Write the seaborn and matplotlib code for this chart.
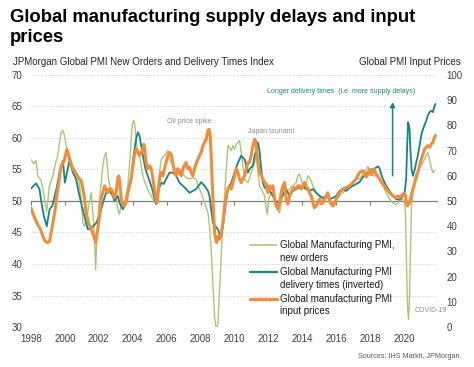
import matplotlib
matplotlib.use("Agg")
import matplotlib.pyplot as plt
import seaborn as sns
import pandas as pd
from matplotlib.lines import Line2D

# ---------------- data ----------------
series_names = ["Global Manufacturing PMI,\nnew orders",
                "Global Manufacturing PMI\ndelivery times (inverted)",
                "Global manufacturing PMI\ninput prices"]

year_ticks = [1998, 2000, 2002, 2004, 2006, 2008, 2010, 2012, 2014, 2016, 2018, 2020]
year_labels = ["1998", "2000", "2002", "2004", "2006", "2008", "2010", "2012",
               "2014", "2016", "2018", "2020"]
left_ticks = [30, 35, 40, 45, 50, 55, 60, 65, 70]
right_ticks = [0, 10, 20, 30, 40, 50, 60, 70, 80, 90, 100]

# New orders (left axis)
no_year = [1998.00, 1998.17, 1998.30, 1998.40, 1998.60, 1998.70, 1998.84, 1998.92, 1999.09, 1999.29,
           1999.48, 1999.54, 1999.68, 1999.78, 1999.88, 1999.98, 2000.07, 2000.27, 2000.47, 2000.76,
           2000.86, 2000.96, 2001.06, 2001.16, 2001.35, 2001.55, 2001.65, 2001.75, 2001.81, 2001.90,
           2001.98, 2002.10, 2002.24, 2002.34, 2002.43, 2002.57, 2002.73, 2002.83, 2002.92, 2003.02,
           2003.12, 2003.22, 2003.32, 2003.46, 2003.57, 2003.71, 2003.81, 2003.91, 2003.97, 2004.05,
           2004.10, 2004.20, 2004.30, 2004.40, 2004.50, 2004.60, 2004.79, 2004.99, 2005.19, 2005.34,
           2005.48, 2005.58, 2005.68, 2005.87, 2006.07, 2006.17, 2006.37, 2006.56, 2006.76, 2006.96,
           2007.15, 2007.35, 2007.55, 2007.74, 2007.85, 2008.04, 2008.24, 2008.44, 2008.53, 2008.63,
           2008.73, 2008.83, 2008.93, 2009.03, 2009.12, 2009.22, 2009.32, 2009.42, 2009.52, 2009.62,
           2009.71, 2009.81, 2009.91, 2010.01, 2010.11, 2010.21, 2010.30, 2010.40, 2010.50, 2010.60,
           2010.80, 2010.99, 2011.19, 2011.29, 2011.39, 2011.48, 2011.58, 2011.78, 2011.88, 2011.94,
           2012.02, 2012.17, 2012.37, 2012.57, 2012.66, 2012.76, 2012.86, 2012.95, 2013.05, 2013.25,
           2013.45, 2013.64, 2013.74, 2013.84, 2013.94, 2014.04, 2014.13, 2014.23, 2014.33, 2014.43,
           2014.53, 2014.63, 2014.72, 2014.82, 2015.02, 2015.22, 2015.41, 2015.61, 2015.81, 2016.00,
           2016.20, 2016.40, 2016.59, 2016.79, 2016.99, 2017.18, 2017.38, 2017.58, 2017.77, 2017.87,
           2017.97, 2018.07, 2018.17, 2018.36, 2018.56, 2018.76, 2018.95, 2019.15, 2019.35, 2019.54,
           2019.74, 2019.94, 2020.03, 2020.09, 2020.15, 2020.21, 2020.27, 2020.33, 2020.39, 2020.45,
           2020.53, 2020.62, 2020.72, 2020.92, 2021.12, 2021.21, 2021.31, 2021.41, 2021.51, 2021.61,
           2021.71, 2021.80]
no_value = [56.6, 55.9, 56.4, 54.0, 53.2, 51.9, 49.7, 48.3, 52.4, 54.0,
            56.4, 56.6, 59.3, 60.9, 61.2, 60.4, 58.8, 57.2, 55.6, 54.0,
            52.4, 50.3, 46.5, 46.0, 48.4, 51.3, 48.1, 44.4, 39.1, 45.0,
            48.7, 51.9, 55.6, 57.2, 57.7, 53.5, 51.3, 50.8, 50.0, 50.3,
            48.7, 47.9, 49.5, 49.2, 50.3, 52.4, 55.6, 59.8, 62.0, 62.8,
            62.5, 59.8, 57.7, 57.2, 55.6, 54.0, 52.4, 51.3, 50.3, 49.7,
            51.9, 54.5, 56.6, 57.2, 58.0, 56.6, 55.6, 55.1, 55.1, 54.3,
            53.7, 53.5, 53.7, 53.5, 52.4, 51.3, 49.7, 48.1, 46.0, 42.3,
            37.0, 31.6, 29.5, 30.6, 35.9, 41.2, 46.5, 50.8, 55.1, 58.8,
            58.5, 58.0, 58.8, 58.2, 59.0, 59.3, 59.6, 57.7, 55.6, 53.5,
            52.9, 54.5, 56.1, 57.2, 54.5, 52.4, 51.9, 50.8, 48.7, 47.9,
            50.3, 51.3, 50.3, 48.4, 48.1, 49.7, 50.8, 51.9, 51.3, 51.9,
            52.4, 52.9, 54.0, 54.3, 53.5, 52.4, 51.9, 52.9, 54.0, 53.7,
            53.2, 52.4, 51.9, 51.3, 50.8, 50.3, 50.8, 50.3, 49.7, 50.3,
            50.8, 51.3, 51.9, 52.4, 52.9, 53.5, 53.5, 54.3, 55.0, 55.5,
            54.8, 54.3, 54.0, 54.0, 53.5, 52.4, 51.3, 50.3, 49.7, 49.4,
            50.0, 50.3, 50.0, 48.1, 40.2, 33.3, 31.2, 34.9, 42.8, 49.2,
            51.3, 53.5, 54.3, 55.3, 56.1, 56.6, 57.2, 57.7, 56.6, 55.3,
            54.5, 54.8]

# Delivery times, inverted (left axis)
dt_year = [1998.00, 1998.30, 1998.50, 1998.60, 1998.76, 1998.93, 1999.10, 1999.25, 1999.50, 1999.68,
           1999.88, 2000.00, 2000.27, 2000.47, 2000.66, 2000.82, 2001.00, 2001.15, 2001.35, 2001.55,
           2001.84, 2002.04, 2002.24, 2002.50, 2002.72, 2002.83, 2002.92, 2003.12, 2003.26, 2003.42,
           2003.61, 2003.77, 2003.91, 2004.05, 2004.20, 2004.30, 2004.40, 2004.50, 2004.60, 2004.75,
           2004.89, 2005.03, 2005.15, 2005.25, 2005.38, 2005.44, 2005.54, 2005.68, 2005.82, 2005.97,
           2006.17, 2006.37, 2006.56, 2006.76, 2006.96, 2007.15, 2007.35, 2007.55, 2007.74, 2007.94,
           2008.04, 2008.24, 2008.44, 2008.53, 2008.63, 2008.73, 2008.87, 2009.03, 2009.12, 2009.22,
           2009.32, 2009.42, 2009.52, 2009.62, 2009.81, 2010.01, 2010.21, 2010.40, 2010.60, 2010.70,
           2010.80, 2010.89, 2011.09, 2011.19, 2011.29, 2011.39, 2011.48, 2011.58, 2011.68, 2011.78,
           2011.98, 2012.17, 2012.37, 2012.57, 2012.70, 2012.86, 2013.05, 2013.25, 2013.45, 2013.64,
           2013.84, 2014.04, 2014.23, 2014.43, 2014.63, 2014.82, 2015.02, 2015.22, 2015.41, 2015.61,
           2015.81, 2016.00, 2016.20, 2016.40, 2016.59, 2016.79, 2016.99, 2017.18, 2017.38, 2017.58,
           2017.77, 2017.97, 2018.17, 2018.36, 2018.46, 2018.56, 2018.66, 2018.76, 2018.95, 2019.15,
           2019.35, 2019.54, 2019.74, 2019.84, 2019.94, 2020.03, 2020.13, 2020.19, 2020.25, 2020.33,
           2020.39, 2020.45, 2020.53, 2020.62, 2020.72, 2020.82, 2020.92, 2021.02, 2021.12, 2021.21,
           2021.31, 2021.41, 2021.51, 2021.61, 2021.71, 2021.80, 2021.86]
dt_value = [52.0, 52.8, 51.9, 50.0, 47.6, 46.0, 48.7, 49.2, 51.9, 54.5,
            56.4, 52.9, 56.4, 54.5, 53.5, 51.3, 49.2, 47.6, 45.5, 45.7,
            46.5, 47.6, 49.7, 51.9, 51.3, 50.8, 50.0, 50.8, 49.5, 48.7,
            49.7, 51.9, 53.5, 57.2, 59.8, 60.9, 60.4, 58.8, 57.2, 55.1,
            54.0, 52.9, 51.9, 50.8, 49.5, 50.3, 51.9, 52.9, 52.7, 53.5,
            54.5, 54.5, 54.0, 52.9, 52.4, 51.9, 51.3, 51.6, 51.9, 52.6,
            53.0, 52.4, 51.6, 50.8, 48.7, 46.5, 46.0, 45.5, 44.7, 44.4,
            46.0, 48.1, 50.3, 51.9, 52.9, 54.5, 56.1, 57.2, 56.6, 55.6,
            54.5, 55.1, 55.6, 57.2, 58.0, 59.3, 58.0, 55.0, 52.9, 52.1,
            51.9, 51.3, 50.3, 49.7, 50.3, 51.0, 51.9, 50.8, 51.6, 51.9,
            52.1, 52.4, 51.9, 51.6, 51.9, 51.3, 50.8, 50.5, 50.8, 50.3,
            50.5, 50.8, 51.6, 51.9, 51.6, 52.1, 52.4, 52.7, 53.0, 53.8,
            54.3, 55.0, 55.0, 55.3, 55.5, 55.2, 54.2, 53.5, 52.4, 51.6,
            50.8, 50.3, 50.2, 50.5, 50.8, 51.1, 53.5, 58.8, 62.5, 61.5,
            57.7, 55.0, 54.0, 54.8, 56.1, 57.2, 58.8, 60.4, 61.4, 62.0,
            62.7, 63.6, 64.1, 64.3, 64.1, 65.1, 65.4]

# Input prices (right axis)
ip_year = [1998.00, 1998.17, 1998.30, 1998.44, 1998.56, 1998.70, 1998.84, 1998.99, 1999.09, 1999.19,
           1999.29, 1999.43, 1999.52, 1999.64, 1999.78, 1999.88, 1999.98, 2000.11, 2000.23, 2000.37,
           2000.53, 2000.66, 2000.80, 2000.96, 2001.06, 2001.16, 2001.25, 2001.39, 2001.55, 2001.71,
           2001.81, 2001.94, 2002.04, 2002.14, 2002.34, 2002.53, 2002.63,
           2002.73, 2002.83, 2002.92, 2003.02, 2003.12, 2003.18, 2003.26, 2003.32, 2003.42, 2003.51,
           2003.61, 2003.71, 2003.81, 2003.91, 2004.01, 2004.10, 2004.20, 2004.30, 2004.40, 2004.50,
           2004.60, 2004.66, 2004.71, 2004.79, 2004.89, 2004.99, 2005.09, 2005.19, 2005.28, 2005.38,
           2005.44, 2005.52, 2005.58, 2005.68, 2005.78, 2005.87, 2005.97, 2006.07, 2006.17, 2006.27,
           2006.37, 2006.46, 2006.56, 2006.66, 2006.76, 2006.86, 2006.96, 2007.05, 2007.15, 2007.25,
           2007.35, 2007.45, 2007.55, 2007.65, 2007.74, 2007.84, 2007.94,
           2008.04, 2008.14, 2008.24, 2008.34, 2008.44, 2008.50, 2008.57, 2008.63, 2008.69, 2008.77,
           2008.83, 2008.89, 2008.95, 2009.03, 2009.12, 2009.22, 2009.32, 2009.42, 2009.52, 2009.62,
           2009.71, 2009.81, 2009.91, 2010.01, 2010.11, 2010.21, 2010.30, 2010.40, 2010.50, 2010.60,
           2010.70, 2010.80, 2010.89, 2010.99, 2011.09, 2011.19, 2011.25, 2011.31, 2011.39, 2011.48,
           2011.58, 2011.68, 2011.78, 2011.88, 2011.98, 2012.07, 2012.17, 2012.27, 2012.37, 2012.47,
           2012.57, 2012.66, 2012.76, 2012.86, 2012.96,
           2013.05, 2013.15, 2013.25, 2013.45, 2013.54, 2013.64, 2013.74, 2013.84, 2013.94, 2014.04,
           2014.13, 2014.23, 2014.33, 2014.43, 2014.53, 2014.63, 2014.72, 2014.82, 2014.92, 2015.02,
           2015.12, 2015.22, 2015.41, 2015.51, 2015.61, 2015.71, 2015.81, 2015.90, 2016.00, 2016.10,
           2016.20, 2016.40, 2016.59, 2016.79, 2016.99, 2017.18, 2017.38, 2017.58, 2017.67, 2017.77,
           2017.87, 2017.97,
           2018.07, 2018.17, 2018.26, 2018.36, 2018.46, 2018.56, 2018.66, 2018.76, 2018.85, 2018.95,
           2019.15, 2019.35, 2019.54, 2019.64, 2019.74, 2019.84, 2019.94, 2020.03, 2020.09, 2020.15,
           2020.21, 2020.27, 2020.33, 2020.39, 2020.45, 2020.53, 2020.62, 2020.72, 2020.82, 2020.92,
           2021.02, 2021.12, 2021.21, 2021.31, 2021.41, 2021.51, 2021.61, 2021.71, 2021.80, 2021.86]
ip_value = [47.3, 44.0, 42.0, 40.0, 38.8, 36.0, 34.0, 33.5, 34.0, 37.5,
            41.3, 46.8, 52.0, 57.3, 64.0, 64.8, 66.5, 70.5, 68.0, 64.0,
            62.0, 60.8, 59.3, 58.0, 54.8, 50.8, 45.3, 41.3, 38.8, 36.0,
            33.5, 38.8, 44.0, 50.8, 56.0, 53.3, 54.8,
            54.8, 53.3, 51.3, 53.3, 58.8, 60.0, 56.0, 50.8, 48.8, 48.0,
            49.3, 53.3, 56.0, 58.8, 64.0, 68.0, 70.5, 69.8, 68.0, 69.3,
            70.5, 72.5, 70.5, 65.3, 62.8, 64.0, 62.8, 58.8, 54.8, 50.8,
            49.3, 54.8, 58.8, 61.3, 60.0, 62.8, 65.3, 68.0, 69.3, 68.5,
            65.3, 61.3, 60.0, 62.8, 61.3, 60.0, 62.8, 64.0, 65.3, 62.8,
            63.3, 61.3, 60.0, 62.8, 64.8, 66.5, 68.0,
            69.3, 72.0, 73.3, 74.5, 78.0, 78.5, 76.0, 68.0, 57.3, 45.3,
            37.3, 34.8, 33.5, 36.0, 34.8, 37.3, 41.3, 48.0, 52.0, 54.8,
            56.0, 54.8, 57.3, 60.0, 62.8, 61.3, 58.8, 57.3, 58.8, 60.0,
            62.8, 65.3, 65.3, 68.0, 72.0, 74.5, 74.0, 70.5, 65.3, 61.3,
            60.0, 58.8, 57.3, 56.8, 53.3, 56.0, 54.8, 56.0, 50.8, 48.0,
            46.8, 49.3, 53.3, 56.0, 57.3,
            50.8, 48.8, 52.0, 54.8, 55.3, 54.8, 56.0, 56.0, 54.8, 56.0,
            57.3, 56.0, 54.8, 53.3, 52.0, 49.3, 47.3, 48.0, 49.3, 50.8,
            48.8, 49.3, 52.0, 53.3, 50.0, 48.8, 48.0, 48.8, 50.8, 52.0,
            53.3, 54.8, 55.3, 56.0, 57.3, 58.8, 61.3, 62.0, 61.0, 59.5,
            60.5, 62.5,
            60.5, 61.5, 62.5, 60.5, 59.8, 58.8, 57.5, 56.8, 56.0, 54.8,
            53.3, 52.0, 51.3, 52.0, 51.5, 52.0, 52.8, 52.8, 52.0, 49.3,
            48.0, 48.8, 49.3, 50.8, 52.8, 54.8, 56.8, 59.3, 61.3, 64.0,
            66.5, 68.5, 70.5, 71.3, 72.0, 71.3, 72.5, 73.3, 75.3, 76.0]

# ---------------- style ----------------
GREEN = "#a5c973"
TEAL = "#138680"
ORANGE = "#f28c3a"
GRID = "#cfcfcf"
TXT = "#404040"
NOTE = "#8c8c8c"

sns.set_theme(style="white")
plt.rcParams["font.family"] = ["Liberation Sans", "DejaVu Sans"]

W, H = 474, 367
fig = plt.figure(figsize=(W / 100, H / 100), dpi=100)
fig.patch.set_facecolor("white")


def fx(x):
    return x / W


def fy(y):
    return 1 - y / H


ax = fig.add_axes([fx(31), fy(327), (437 - 31) / W, (327 - 75) / H])
ax2 = ax.twinx()

df_no = pd.DataFrame({"year": no_year, "value": no_value})
df_dt = pd.DataFrame({"year": dt_year, "value": dt_value})
df_ip = pd.DataFrame({"year": ip_year, "value": ip_value})

sns.lineplot(data=df_no, x="year", y="value", ax=ax, color=GREEN, linewidth=1.0,
             estimator=None, zorder=3)
sns.lineplot(data=df_dt, x="year", y="value", ax=ax, color=TEAL, linewidth=1.3,
             estimator=None, zorder=4)
sns.lineplot(data=df_ip, x="year", y="value", ax=ax2, color=ORANGE, linewidth=2.2,
             estimator=None, zorder=5)

ax.set_xlim(1998, 2021.95)
ax.set_ylim(30, 70)
ax2.set_ylim(0, 100)
for a in (ax, ax2):
    a.set_xlabel("")
    a.set_ylabel("")
    for s in a.spines.values():
        s.set_visible(False)
ax.patch.set_alpha(0)

# horizontal dotted grid
ax.set_yticks(left_ticks)
ax.set_yticklabels([str(t) for t in left_ticks])
ax.yaxis.grid(True, linestyle=(0, (1, 1.5)), color=GRID, linewidth=0.7)
ax.xaxis.grid(False)
ax.tick_params(axis="y", length=0, pad=6, labelsize=7, labelcolor=TXT)

ax2.set_yticks(right_ticks)
ax2.set_yticklabels([str(t) for t in right_ticks])
ax2.grid(False)
ax2.tick_params(axis="y", length=0, pad=7, labelsize=7, labelcolor=TXT)

# 50-line axis with ticks
ax.spines["bottom"].set_visible(True)
ax.spines["bottom"].set_position(("data", 50))
ax.spines["bottom"].set_color("#7f7f7f")
ax.spines["bottom"].set_linewidth(0.9)
ax.spines["bottom"].set_zorder(2)
ax.set_xticks(year_ticks)
ax.tick_params(axis="x", bottom=True, direction="out", length=3, width=0.8,
               color="#7f7f7f", labelbottom=False)

sec = ax.secondary_xaxis("bottom")
sec.set_xticks(year_ticks, labels=year_labels)
sec.tick_params(length=0, pad=5, labelsize=7, labelcolor=TXT)
for s in sec.spines.values():
    s.set_visible(False)

# annotations
ax.text(2007.35, 62.6, "Oil price spike", fontsize=5, color=NOTE, ha="center", va="center")
ax.text(2012.19, 61.1, "Japan tsunami", fontsize=5, color=NOTE, ha="center", va="center")
ax.text(2016.32, 67.4, "Longer delivery times  (i.e. more supply delays)", fontsize=5,
        color=TEAL, ha="center", va="center")
ax.text(2021.57, 32.6, "COVID-19", fontsize=5, color=NOTE, ha="center", va="center",
        clip_on=False)
ax.annotate("", xy=(2019.33, 65.7), xytext=(2019.33, 54.0),
            arrowprops=dict(arrowstyle="-|>", color=TEAL, lw=1.1, mutation_scale=7,
                            shrinkA=0, shrinkB=0))

# legend (handle aligned with first text line, as in the reference)
leg_colors = [GREEN, TEAL, ORANGE]
leg_widths = [1.2, 1.6, 2.4]
leg_y = [245.3, 272.0, 298.7]
for name, c, lw, y in zip(series_names, leg_colors, leg_widths, leg_y):
    fig.add_artist(Line2D([fx(250), fx(277)], [fy(y), fy(y)], color=c, lw=lw))
    l1, l2 = name.split("\n")
    fig.text(fx(280), fy(y), l1, fontsize=7, color="#1a1a1a", va="center", ha="left")
    fig.text(fx(280), fy(y + 12.5), l2, fontsize=7, color="#1a1a1a", va="center", ha="left")

# titles
fig.text(fx(10), fy(9), "Global manufacturing supply delays and input\nprices",
         fontsize=13.3, fontweight="bold", color="#000000", ha="left", va="top",
         linespacing=1.22)
fig.text(fx(13), fy(62), "JPMorgan Global PMI New Orders and Delivery Times Index",
         fontsize=7, color="#262626", ha="left", va="center")
fig.text(fx(461), fy(62), "Global PMI Input Prices", fontsize=7, color="#262626",
         ha="right", va="center")
fig.text(fx(461), fy(357), "Sources: IHS Markit, JPMorgan.", fontsize=5.2, color="#595959",
         ha="right", va="center")

fig.savefig("out.png", dpi=100)
